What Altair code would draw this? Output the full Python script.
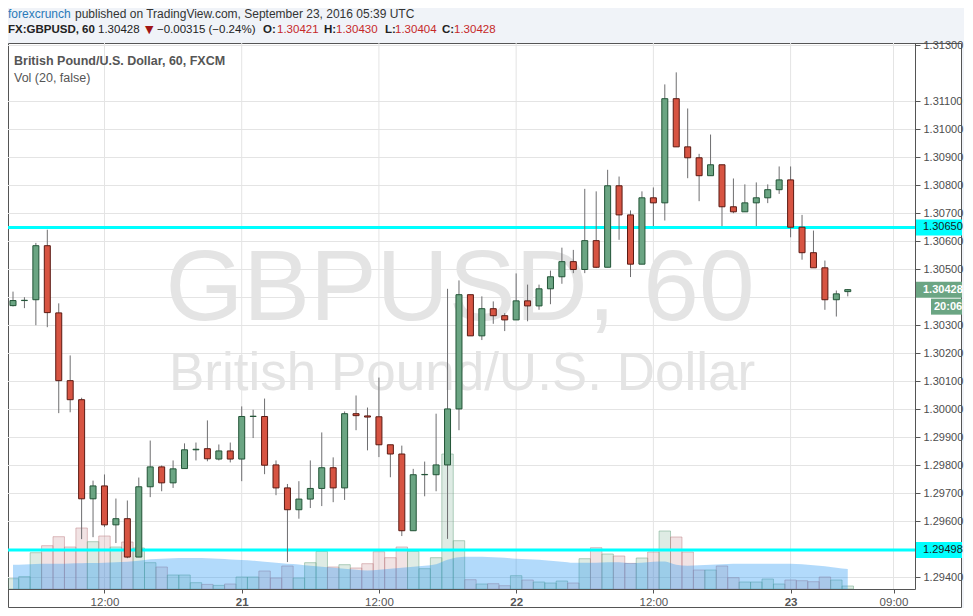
import altair as alt
import pandas as pd
from datetime import datetime, timedelta

# ---------------- data ----------------
opens = [1.30371, 1.30389, 1.30392, 1.30585, 1.30345, 1.30103, 1.30035, 1.29681, 1.29727, 1.29588,
         1.29610, 1.29473, 1.29724, 1.29795, 1.29738, 1.29789, 1.29856, 1.29860, 1.29823, 1.29852,
         1.29823, 1.29975, 1.29975, 1.29802, 1.29720, 1.29642, 1.29680, 1.29718, 1.29792, 1.29720,
         1.29985, 1.29977, 1.29974, 1.29874, 1.29841, 1.29567, 1.29767, 1.29767, 1.29802, 1.30002,
         1.30410, 1.30263, 1.30360, 1.30335, 1.30320, 1.30388, 1.30370, 1.30431, 1.30474, 1.30528,
         1.30500, 1.30603, 1.30508, 1.30799, 1.30695, 1.30519, 1.30756, 1.30738, 1.31110, 1.30938,
         1.30899, 1.30835, 1.30874, 1.30724, 1.30706, 1.30738, 1.30756, 1.30785, 1.30820, 1.30651,
         1.30560, 1.30506, 1.30392, 1.30421]
highs = [1.30421, 1.30401, 1.30595, 1.30642, 1.30379, 1.30193, 1.30042, 1.29746, 1.29768, 1.29682,
         1.29675, 1.29757, 1.29889, 1.29800, 1.29818, 1.29879, 1.29882, 1.29961, 1.29875, 1.29882,
         1.30011, 1.29999, 1.30039, 1.29818, 1.29734, 1.29744, 1.29818, 1.29918, 1.29829, 1.29993,
         1.30050, 1.30007, 1.30114, 1.29874, 1.29871, 1.29788, 1.29814, 1.29985, 1.30431, 1.30461,
         1.30410, 1.30404, 1.30386, 1.30344, 1.30486, 1.30446, 1.30446, 1.30496, 1.30578, 1.30570,
         1.30788, 1.30779, 1.30856, 1.30832, 1.30711, 1.30779, 1.30793, 1.31161, 1.31204, 1.31075,
         1.30913, 1.30982, 1.30874, 1.30825, 1.30804, 1.30811, 1.30804, 1.30868, 1.30868, 1.30695,
         1.30639, 1.30532, 1.30425, 1.30430]
lows = [1.30368, 1.30362, 1.30301, 1.30294, 1.29987, 1.29990, 1.29537, 1.29544, 1.29580, 1.29523,
        1.29469, 1.29473, 1.29687, 1.29708, 1.29720, 1.29789, 1.29818, 1.29815, 1.29818, 1.29811,
        1.29744, 1.29898, 1.29769, 1.29694, 1.29455, 1.29610, 1.29648, 1.29655, 1.29669, 1.29677,
        1.29926, 1.29854, 1.29830, 1.29758, 1.29548, 1.29567, 1.29690, 1.29708, 1.29538, 1.29926,
        1.30263, 1.30248, 1.30306, 1.30280, 1.30320, 1.30315, 1.30356, 1.30376, 1.30449, 1.30487,
        1.30487, 1.30505, 1.30508, 1.30606, 1.30473, 1.30519, 1.30655, 1.30675, 1.30938, 1.30826,
        1.30744, 1.30835, 1.30655, 1.30701, 1.30706, 1.30655, 1.30737, 1.30770, 1.30615, 1.30535,
        1.30506, 1.30356, 1.30332, 1.30404]
closes = [1.30389, 1.30390, 1.30585, 1.30346, 1.30103, 1.30035, 1.29681, 1.29727, 1.29588, 1.29610,
          1.29473, 1.29724, 1.29795, 1.29738, 1.29788, 1.29856, 1.29858, 1.29824, 1.29852, 1.29823,
          1.29975, 1.29976, 1.29801, 1.29720, 1.29642, 1.29680, 1.29718, 1.29792, 1.29720, 1.29985,
          1.29978, 1.29973, 1.29874, 1.29841, 1.29567, 1.29767, 1.29768, 1.29802, 1.30002, 1.30410,
          1.30263, 1.30360, 1.30335, 1.30320, 1.30388, 1.30370, 1.30431, 1.30474, 1.30528, 1.30500,
          1.30603, 1.30508, 1.30799, 1.30695, 1.30519, 1.30756, 1.30738, 1.31110, 1.30938, 1.30899,
          1.30835, 1.30874, 1.30724, 1.30706, 1.30738, 1.30756, 1.30785, 1.30820, 1.30651, 1.30560,
          1.30506, 1.30392, 1.30413, 1.30428]
volumes = [206, 246, 726, 866, 1046, 840, 1220, 946, 1060, 840,
           940, 820, 526, 440, 280, 280, 126, 92, 72, 100,
           240, 240, 360, 220, 460, 220, 526, 752, 440, 486,
           420, 506, 746, 626, 840, 752, 406, 626, 2700, 966,
           186, 100, 106, 66, 266, 180, 140, 120, 160, 120,
           606, 826, 700, 660, 512, 620, 740, 1160, 1040, 740,
           380, 380, 460, 226, 140, 140, 200, 100, 180, 166,
           146, 240, 180, 60]
vol_ma = [486, 492, 500, 506, 506, 512, 516, 520, 526, 536,
          546, 566, 596, 606, 616, 620, 620, 616, 606, 592,
          580, 566, 546, 526, 506, 492, 466, 446, 426, 406,
          386, 372, 386, 406, 426, 446, 466, 496, 586, 636,
          646, 646, 636, 626, 606, 596, 586, 566, 546, 526,
          526, 526, 536, 536, 516, 526, 546, 552, 486, 466,
          476, 486, 496, 506, 506, 506, 506, 506, 506, 496,
          476, 456, 426, 400]

grid_prices = [1.294, 1.295, 1.296, 1.297, 1.298, 1.299, 1.300, 1.301, 1.302, 1.303, 1.304,
               1.305, 1.306, 1.307, 1.308, 1.309, 1.310, 1.311, 1.313]
axis_prices = [1.294, 1.296, 1.297, 1.298, 1.299, 1.300, 1.301, 1.302, 1.303,
               1.305, 1.306, 1.307, 1.308, 1.309, 1.310, 1.311, 1.313]
level_prices = [1.30650, 1.29498]
level_labels = ["1.30650", "1.29498"]
last_price = 1.30428
last_label = "1.30428"
countdown = "20:06"
tick_moments = [(20, 12), (21, 0), (21, 12), (22, 0), (22, 12), (23, 0), (23, 9)]

# ---------------- tables ----------------
start = datetime(2016, 9, 20, 4, 0)
times = [start + timedelta(hours=i) for i in range(len(opens))]


def iso(d):
    return d.strftime("%Y-%m-%dT%H:%M:%SZ")


df = pd.DataFrame({
    "t": [iso(d) for d in times],
    "t0": [iso(d - timedelta(minutes=30)) for d in times],
    "t1": [iso(d + timedelta(minutes=30)) for d in times],
    "open": opens, "high": highs, "low": lows, "close": closes,
    "vol": volumes, "ma": vol_ma,
})

grid_df = pd.DataFrame({"price": grid_prices})
vgrid_df = pd.DataFrame({"t": [iso(datetime(2016, 9, d, h)) for d, h in tick_moments]})
levels_df = pd.DataFrame({"price": level_prices, "label": level_labels})
last_df = pd.DataFrame({"price": [last_price], "label": [last_label], "cd": [countdown]})

# ---------------- scales / axes ----------------
FONT = "Liberation Sans"
x_scale = alt.Scale(type="utc", domain=[
    alt.DateTime(year=2016, month=9, date=20, hours=4, utc=True),
    alt.DateTime(year=2016, month=9, date=23, hours=10, minutes=26, seconds=30, utc=True)])
x_axis = alt.Axis(
    values=[alt.DateTime(year=2016, month=9, date=d, hours=h, utc=True) for d, h in tick_moments],
    labelExpr="utchours(datum.value) == 0 ? utcFormat(datum.value, '%d') : utcFormat(datum.value, '%H:%M')",
    labelFontWeight={"condition": {"test": "utchours(datum.value) == 0", "value": "bold"}, "value": "normal"},
    grid=False, tickSize=4, labelPadding=3, labelFontSize=11.5, labelFont=FONT,
    labelColor="#555555", domainColor="#555555", tickColor="#555555",
    labelFlush=False, labelOverlap=False, zindex=1, title=None)

price_scale = alt.Scale(domain=[1.293589, 1.313089], nice=False, zero=False)
y_axis = alt.Axis(orient="right", values=axis_prices, format=".5f", grid=False,
                  tickSize=5, labelPadding=3, labelFontSize=11, labelFont=FONT,
                  labelColor="#4d4d4d", domainColor="#555555", tickColor="#555555",
                  zindex=1, title=None)
vol_scale = alt.Scale(domain=[0, 10920], nice=False, zero=True)

UP_FILL, DN_FILL = "#6ba583", "#d75442"
UP_LINE, DN_LINE = "#225437", "#5b1a13"
UP_VOL, DN_VOL = "#6ba583", "#c07f86"
IS_UP = "datum.close >= datum.open"


def X(field):
    return alt.X(f"{field}:T", scale=x_scale, axis=x_axis, title=None)


def YP(field, axis=None):
    return alt.Y(f"{field}:Q", scale=price_scale, axis=axis, title=None)


one = alt.Data(values=[{"a": 1}])


def txt(s, x, y, size=12, color="#333333", weight="normal", align="left",
        baseline="alphabetic", font=FONT):
    return alt.Chart(one).mark_text(
        text=s, fontSize=size, color=color, fontWeight=weight, align=align,
        baseline=baseline, font=font).encode(x=alt.value(x), y=alt.value(y))


# ---------------- layers ----------------
frame = alt.Chart(one).mark_rect(fill="white", stroke="#555555", strokeWidth=1, opacity=1).encode(
    x=alt.value(0.5), x2=alt.value(953.5), y=alt.value(0.5), y2=alt.value(564.5))

hgrid = alt.Chart(grid_df).mark_rule(color="#e4e4e4", strokeWidth=1).encode(y=YP("price"))
vgrid = alt.Chart(vgrid_df).mark_rule(color="#e4e4e4", strokeWidth=1).encode(x=X("t"))

wm1 = txt("GBPUSD, 60", 452, 277, size=100, color="#e4e4e4", align="center")
wm2 = txt("British Pound/U.S. Dollar", 454, 347, size=53, color="#e4e4e4", align="center")

vol_bars = alt.Chart(df).mark_bar(strokeWidth=1, opacity=1, fillOpacity=0.22, strokeOpacity=0.5,
                                  clip=True).encode(
    x=X("t0"), x2="t1:T",
    y=alt.Y("vol:Q", scale=vol_scale, axis=None, title=None),
    y2=alt.datum(0),
    fill=alt.condition(IS_UP, alt.value(UP_VOL), alt.value(DN_VOL)),
    stroke=alt.condition(IS_UP, alt.value(UP_VOL), alt.value(DN_VOL)),
)
vol_ma_area = alt.Chart(df).mark_area(color="#2196f3", opacity=0.35, interpolate="monotone", clip=True).encode(
    x=X("t"), y=alt.Y("ma:Q", scale=vol_scale, axis=None, title=None))

level_rules = alt.Chart(levels_df).mark_rule(color="#00ffff", strokeWidth=3).encode(y=YP("price"))

wicks = alt.Chart(df).mark_rule(color="#6e6e70", strokeWidth=1, clip=True).encode(
    x=X("t"), y=YP("low"), y2="high:Q")
bodies = alt.Chart(df).mark_bar(size=6, strokeWidth=1, opacity=1, fillOpacity=1, strokeOpacity=1,
                                clip=True).encode(
    x=X("t"), y=YP("open", y_axis), y2="close:Q",
    fill=alt.condition(IS_UP, alt.value(UP_FILL), alt.value(DN_FILL)),
    stroke=alt.condition(IS_UP, alt.value(UP_LINE), alt.value(DN_LINE)),
)

level_boxes = alt.Chart(levels_df).mark_tick(orient="horizontal", size=47, thickness=16,
                                             color="#00ffff", opacity=1).encode(
    x=alt.value(930.5), y=YP("price"))
level_text = alt.Chart(levels_df).mark_text(align="left", baseline="middle", fontSize=11,
                                            font=FONT, color="#1a1a1a").encode(
    x=alt.value(915), y=YP("price"), text="label:N")
last_box = alt.Chart(last_df).mark_tick(orient="horizontal", size=47, thickness=16,
                                        color="#6ba583", opacity=1).encode(
    x=alt.value(930.5), y=YP("price"))
last_text = alt.Chart(last_df).mark_text(align="left", baseline="middle", fontSize=11,
                                         font=FONT, fontWeight="bold", color="white").encode(
    x=alt.value(915), y=YP("price"), text="label:N")
cd_box = alt.Chart(last_df).mark_tick(orient="horizontal", size=31, thickness=16, yOffset=17,
                                      color="#6ba583", opacity=1).encode(
    x=alt.value(938.5), y=YP("price"))
cd_text = alt.Chart(last_df).mark_text(align="left", baseline="middle", fontSize=11, yOffset=17,
                                       font=FONT, fontWeight="bold", color="white").encode(
    x=alt.value(926), y=YP("price"), text="cd:N")

legend1 = txt("British Pound/U.S. Dollar, 60, FXCM", 6, 22, size=12.5, color="#555555", weight="bold")
legend2 = txt("Vol (20, false)", 6, 39, size=12.5, color="#555555")

RED = "#c62828"
head = [
    txt("forexcrunch", 0, -25, size=12, color="#2a7ab8"),
    txt("published on TradingView.com, September 23, 2016 05:39 UTC", 67, -25, size=12, color="#333333"),
    txt("FX:GBPUSD, 60", 0, -10, size=11.5, weight="bold", color="#222222"),
    txt("1.30428", 90, -10, size=11.5, color="#222222"),
    txt("▼", 137, -10, size=11, color="#a01515", font="DejaVu Sans"),
    txt("−0.00315 (−0.24%)", 149, -10, size=11.5, color="#222222"),
    txt("O:", 255, -10, size=11.5, weight="bold", color="#222222"),
    txt("1.30421", 269, -10, size=11.5, color=RED),
    txt("H:", 316, -10, size=11.5, weight="bold", color="#222222"),
    txt("1.30430", 328, -10, size=11.5, color=RED),
    txt("L:", 377, -10, size=11.5, weight="bold", color="#222222"),
    txt("1.30404", 387, -10, size=11.5, color=RED),
    txt("C:", 434, -10, size=11.5, weight="bold", color="#222222"),
    txt("1.30428", 446, -10, size=11.5, color=RED),
]

chart = alt.layer(
    frame, hgrid, vgrid, wm1, wm2, vol_bars, vol_ma_area, level_rules, wicks, bodies,
    level_boxes, level_text, last_box, last_text, cd_box, cd_text, legend1, legend2, *head
).resolve_scale(y="independent").properties(
    width=907, height=546,
    padding={"left": 0, "top": 35, "right": 49, "bottom": 19},
    autosize=alt.AutoSizeParams(type="none"),
    background="#f0f3f8",
).configure_view(strokeWidth=0)

chart.save("out.html", embed_options={"renderer": "svg", "actions": False})
